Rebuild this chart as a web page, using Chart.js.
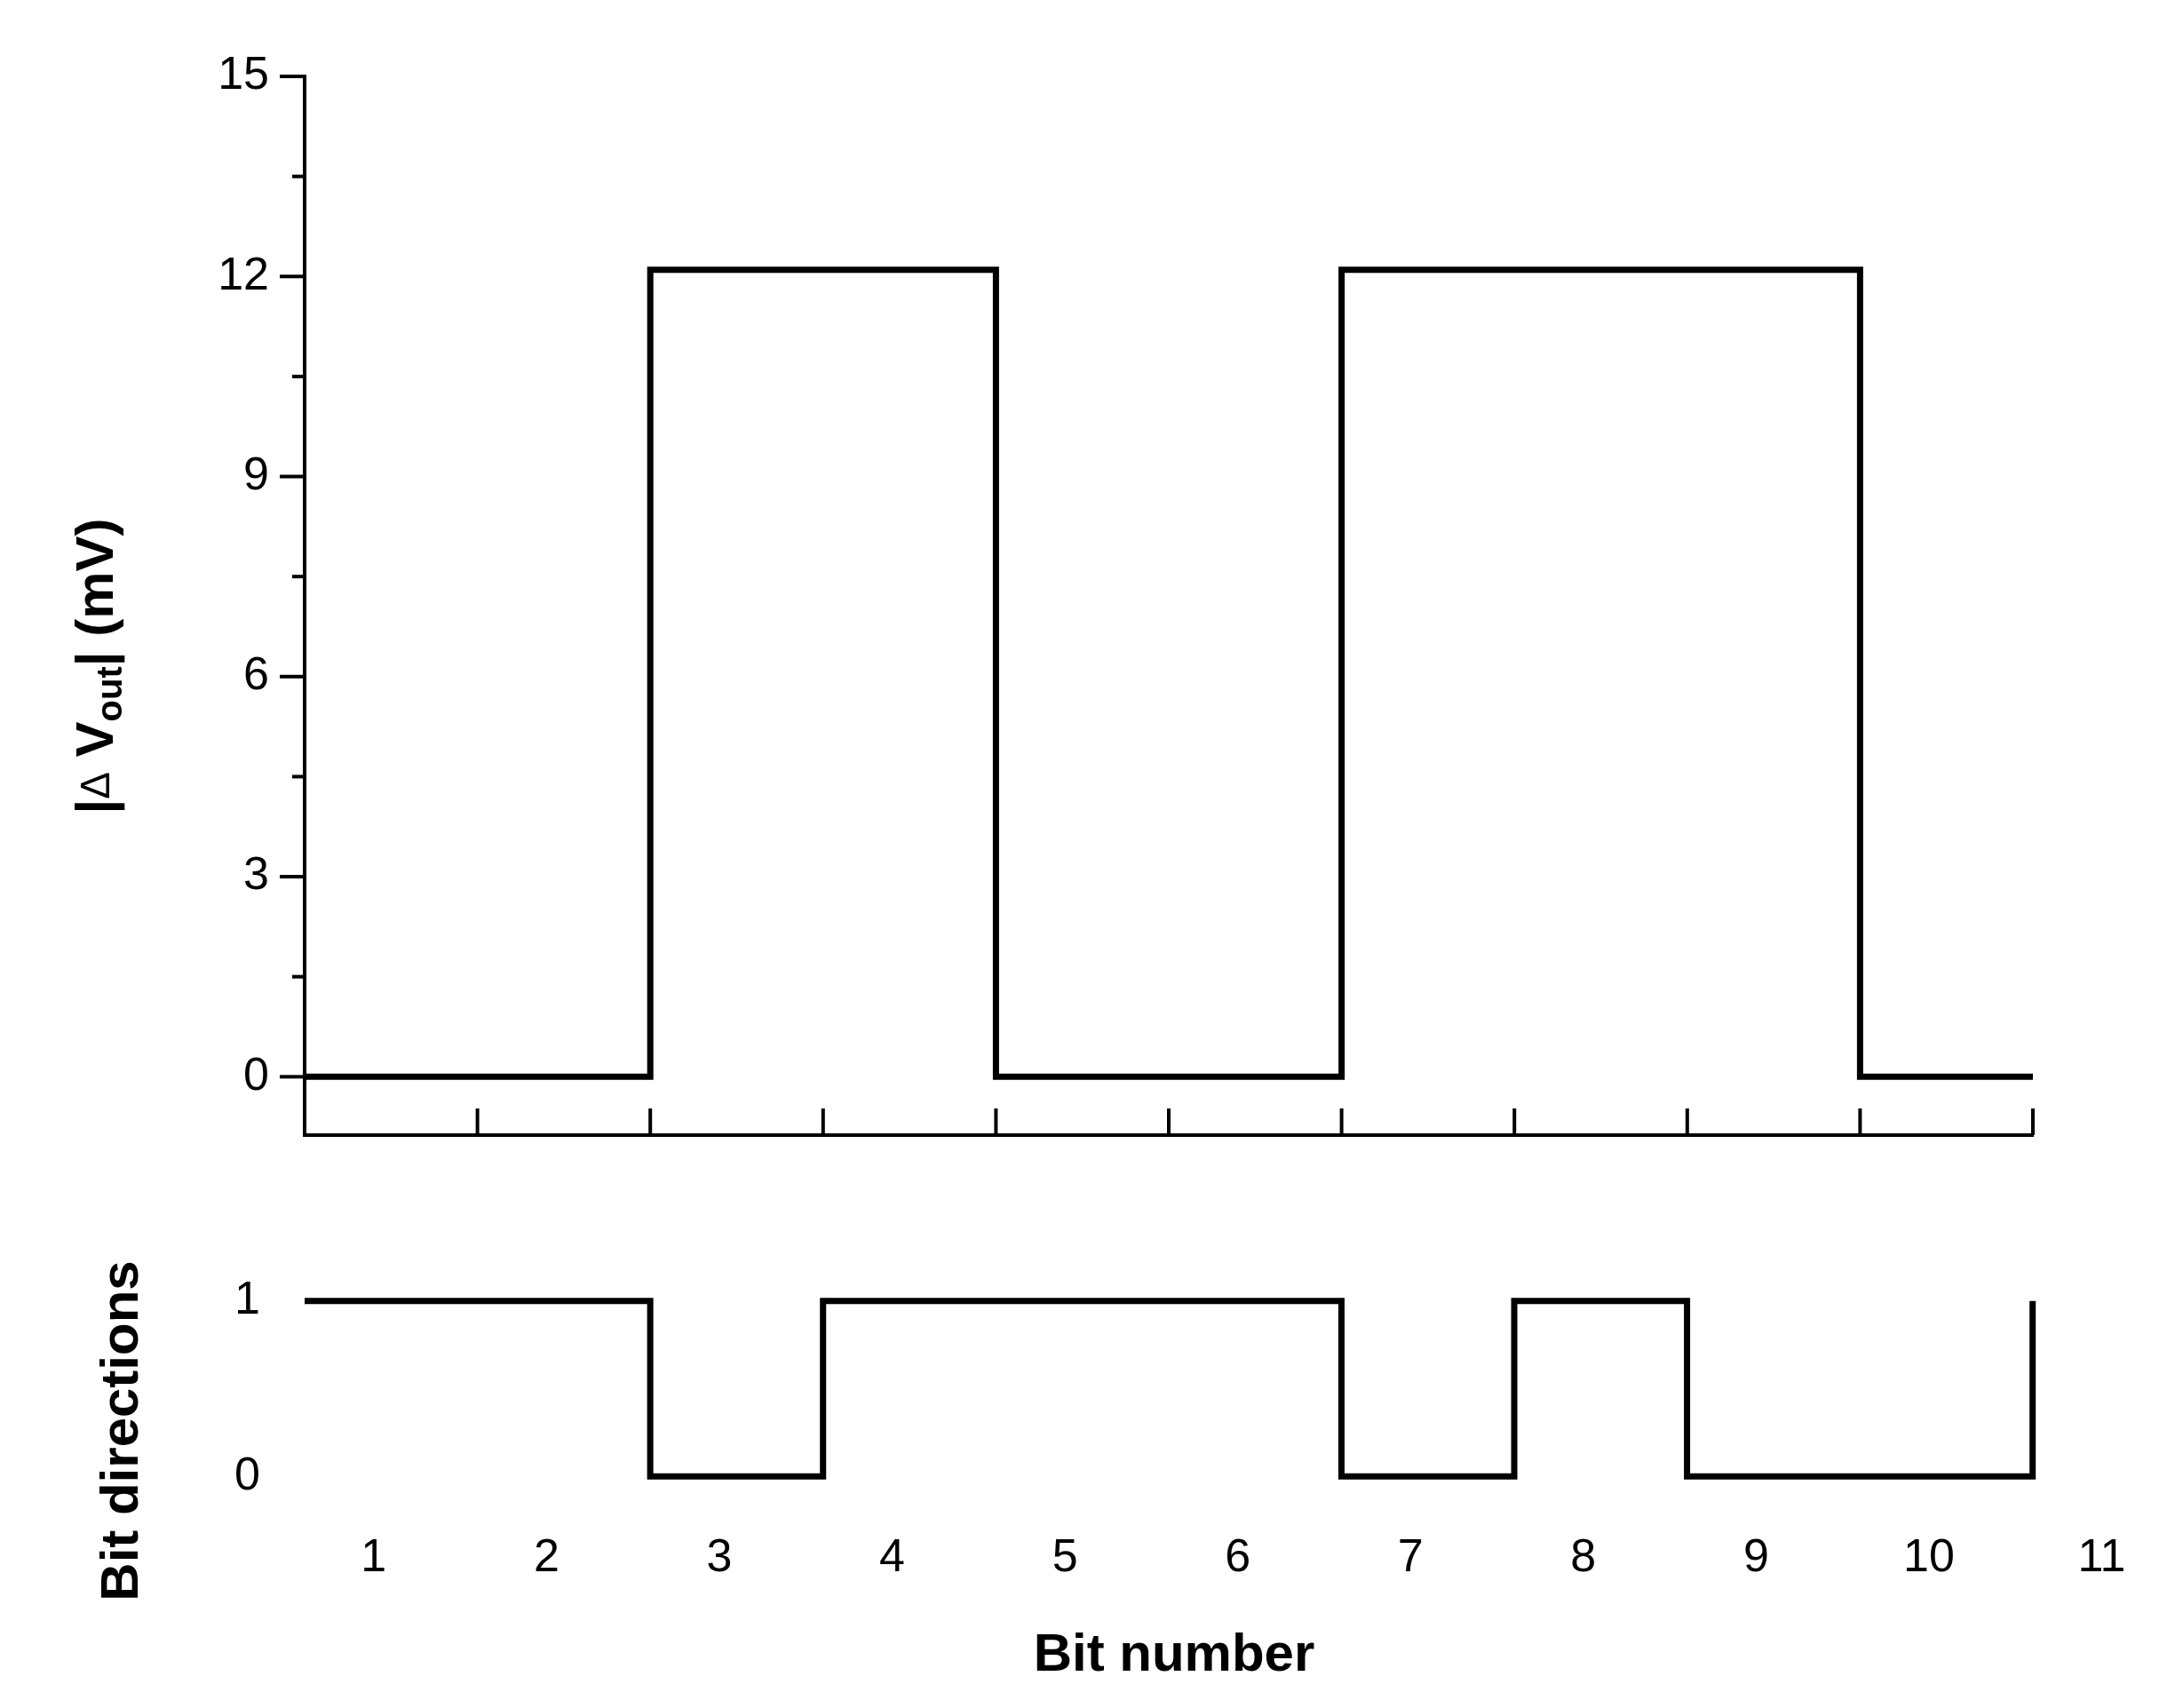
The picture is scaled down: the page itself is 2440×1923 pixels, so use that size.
<!DOCTYPE html>
<html>
<head>
<meta charset="utf-8">
<script src="https://cdn.jsdelivr.net/npm/chart.js@4"></script>
<style>
  body { margin: 0; background: #fff; }
  canvas { position: absolute; left: 0; top: 0; }
</style>
</head>
<body>
<canvas id="top" width="2440" height="1923"></canvas>
<canvas id="bottom" width="2440" height="1923"></canvas>
<script>
// Data
const voutX = [0.6, 2.6, 2.6, 4.6, 4.6, 6.6, 6.6, 9.6, 9.6, 10.6];
const voutY = [0, 0, 12.1, 12.1, 0, 0, 12.1, 12.1, 0, 0];
const dirX = [0.6, 2.6, 2.6, 3.6, 3.6, 6.6, 6.6, 7.6, 7.6, 8.6, 8.6, 10.6, 10.6];
const dirY = [1, 1, 0, 0, 1, 1, 0, 0, 1, 1, 0, 0, 1];
const voutTicks = [0, 3, 6, 9, 12, 15];
const voutMinor = [1.5, 4.5, 7.5, 10.5, 13.5];
const topXTicks = [0.6, 1.6, 2.6, 3.6, 4.6, 5.6, 6.6, 7.6, 8.6, 9.6, 10.6];
const bitLabels = [1, 2, 3, 4, 5, 6, 7, 8, 9, 10, 11];
const dirTicks = [0, 1];

const FONT = "'Liberation Sans', Arial, sans-serif";
Chart.defaults.font.family = FONT;
Chart.defaults.color = "#000";

const toPts = (xs, ys) => xs.map((x, i) => ({ x: x, y: ys[i] }));

// ticks, tick labels and y title of the upper panel
const topTicks = {
  id: "topTicks",
  afterDraw(chart) {
    const c = chart.ctx, x = chart.scales.x, y = chart.scales.y;
    const a = chart.chartArea;
    c.save();
    c.strokeStyle = "#000";
    c.fillStyle = "#000";
    c.lineWidth = 4;
    topXTicks.forEach((v) => {
      const px = x.getPixelForValue(v);
      c.beginPath(); c.moveTo(px, a.bottom); c.lineTo(px, a.bottom - 30); c.stroke();
    });
    voutMinor.forEach((v) => {
      const py = y.getPixelForValue(v);
      c.beginPath(); c.moveTo(a.left, py); c.lineTo(a.left - 14, py); c.stroke();
    });
    c.font = "52px " + FONT;
    c.textAlign = "right";
    c.textBaseline = "middle";
    voutTicks.forEach((v) => {
      const py = y.getPixelForValue(v);
      c.beginPath(); c.moveTo(a.left, py); c.lineTo(a.left - 28, py); c.stroke();
      c.fillText(String(v), a.left - 40, py);
    });
    // y title with subscript
    c.translate(110, 750);
    c.rotate(-Math.PI / 2);
    c.textAlign = "left";
    const big = "bold 60px " + FONT, small = "bold 40px " + FONT;
    const parts = [["|", big, 0], ["\u0394", "46px " + FONT, 0], [" V", big, 0], ["out", small, 16], ["| (mV)", big, 0]];
    let w = 0;
    parts.forEach((p) => { c.font = p[1]; w += c.measureText(p[0]).width; });
    let cx = -w / 2;
    parts.forEach((p) => {
      c.font = p[1];
      c.fillText(p[0], cx, p[2]);
      cx += c.measureText(p[0]).width;
    });
    c.restore();
  },
};

new Chart(document.getElementById("top"), {
  type: "line",
  data: {
    datasets: [{
      data: toPts(voutX, voutY),
      borderColor: "#000",
      borderWidth: 7,
      pointRadius: 0,
      tension: 0,
    }],
  },
  options: {
    responsive: false,
    animation: false,
    devicePixelRatio: 1,
    layout: { padding: { left: 343, right: 151, top: 86, bottom: 645 } },
    plugins: { legend: { display: false }, tooltip: { enabled: false } },
    scales: {
      x: {
        type: "linear", min: 0.6, max: 10.6,
        ticks: { display: false },
        grid: { display: false },
        border: { color: "#000", width: 4 },
        afterFit: (s) => { s.height = 0; },
      },
      y: {
        min: -0.875, max: 15,
        ticks: { display: false },
        grid: { display: false },
        border: { color: "#000", width: 4 },
        afterFit: (s) => { s.width = 0; },
      },
    },
  },
  plugins: [topTicks],
});

// tick labels and titles of the lower panel
const bottomText = {
  id: "bottomText",
  afterDraw(chart) {
    const c = chart.ctx, x = chart.scales.x, y = chart.scales.y;
    const a = chart.chartArea;
    c.save();
    c.fillStyle = "#000";
    c.textBaseline = "middle";
    c.font = "52px " + FONT;
    c.textAlign = "center";
    bitLabels.forEach((v) => c.fillText(String(v), x.getPixelForValue(v), 1755));
    c.textAlign = "right";
    dirTicks.forEach((v) => c.fillText(String(v), a.left - 50, y.getPixelForValue(v)));
    c.textAlign = "center";
    c.font = "bold 60px " + FONT;
    c.fillText("Bit number", 1322, 1864);
    c.translate(138, 1611);
    c.rotate(-Math.PI / 2);
    c.fillText("Bit directions", 0, 0);
    c.restore();
  },
};

new Chart(document.getElementById("bottom"), {
  type: "line",
  data: {
    datasets: [{
      data: toPts(dirX, dirY),
      borderColor: "#000",
      borderWidth: 7,
      pointRadius: 0,
      tension: 0,
    }],
  },
  options: {
    responsive: false,
    animation: false,
    devicePixelRatio: 1,
    layout: { padding: { left: 343, right: 54, top: 1435, bottom: 241 } },
    plugins: { legend: { display: false }, tooltip: { enabled: false } },
    scales: {
      x: {
        type: "linear", min: 0.6, max: 11.1,
        ticks: { display: false },
        grid: { display: false },
        border: { display: false },
        afterFit: (s) => { s.height = 0; },
      },
      y: {
        min: -0.1, max: 1.15,
        ticks: { display: false },
        grid: { display: false },
        border: { display: false },
        afterFit: (s) => { s.width = 0; },
      },
    },
  },
  plugins: [bottomText],
});
</script>
</body>
</html>
